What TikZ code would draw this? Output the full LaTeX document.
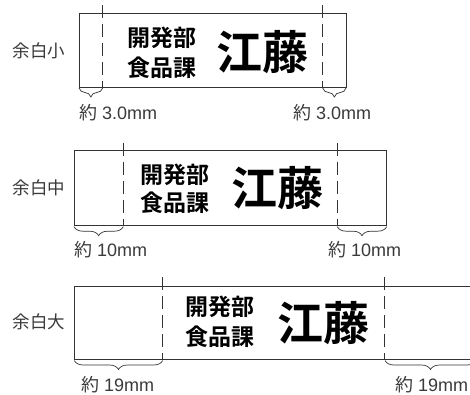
\documentclass[tikz,border=0pt]{standalone}
\usepackage{fontspec}
\setmainfont{Liberation Sans}
\newfontfamily\jp{Noto Sans CJK JP}
\newfontfamily\jpbold{Noto Sans CJK JP Bold}
\usetikzlibrary{decorations.pathreplacing}
\definecolor{linegray}{HTML}{333333}
\definecolor{labelgray}{HTML}{3A3A3A}

\begin{document}
\begin{tikzpicture}[x=1pt, y=-1pt,
    tape/.style={draw=linegray, line width=0.8pt},
    cutline/.style={draw=linegray, line width=0.8pt, dash pattern=on 13pt off 6pt},
    marginbrace/.style={draw=linegray, line width=0.7pt, decorate, decoration={brace, mirror, amplitude=9pt, raise=1pt}},
    rowlabel/.style={text=labelgray, font=\jp\fontsize{17.5}{18}\selectfont, inner sep=0pt},
    sizelabel/.style={text=labelgray, font=\fontsize{18}{20}\selectfont, inner sep=0pt, anchor=west},
    dept/.style={font=\jpbold\fontsize{23}{26}\selectfont, inner sep=0pt},
    bigname/.style={font=\jpbold\fontsize{46}{50}\selectfont, inner sep=0pt}
]
\useasboundingbox (0,0) rectangle (470,395);
\clip (0,0) rectangle (470,395);

% Small margin
\node[rowlabel] (labelA) at (39,51) {余白小};
\draw[tape] (79,13) rectangle (346,87);
\draw[cutline] (102.7,5) -- (102.7,87);
\draw[cutline] (322.7,5) -- (322.7,87);
\node[dept] (deptA) at (161.5,38) {開発部};
\node[dept] (sectA) at (161.5,68) {食品課};
\node[bigname] (nameA) at (262,52) {江藤};
\coordinate (edgeLA) at (79,87);
\coordinate (cutLA) at (102.7,87);
\coordinate (cutRA) at (322.7,87);
\coordinate (edgeRA) at (346,87);
\draw[marginbrace] (edgeLA) -- (cutLA);
\draw[marginbrace] (cutRA) -- (edgeRA);
\node[sizelabel] (sizeLA) at (79,113) {{\jp 約} 3.0mm};
\node[sizelabel] (sizeRA) at (293,113) {{\jp 約} 3.0mm};

% Medium margin
\node[rowlabel] (labelB) at (39,188) {余白中};
\draw[tape] (74,150.7) rectangle (386.7,225.7);
\draw[cutline] (123.3,142.7) -- (123.3,225.7);
\draw[cutline] (337.3,142.7) -- (337.3,225.7);
\node[dept] (deptB) at (175,175) {開発部};
\node[dept] (sectB) at (175,203) {食品課};
\node[bigname] (nameB) at (277,188.5) {江藤};
\coordinate (edgeLB) at (74,225.7);
\coordinate (cutLB) at (123.3,225.7);
\coordinate (cutRB) at (337.3,225.7);
\coordinate (edgeRB) at (386.7,225.7);
\draw[marginbrace] (edgeLB) -- (cutLB);
\draw[marginbrace] (cutRB) -- (edgeRB);
\node[sizelabel] (sizeLB) at (74,250) {{\jp 約} 10mm};
\node[sizelabel] (sizeRB) at (328,250) {{\jp 約} 10mm};

% Large margin
\node[rowlabel] (labelC) at (39,322) {余白大};
\draw[tape] (74.3,286.7) rectangle (476,359.5);
\draw[cutline] (162.7,277) -- (162.7,359.5);
\draw[cutline] (384,277) -- (384,359.5);
\node[dept] (deptC) at (220,307) {開発部};
\node[dept] (sectC) at (220,337) {食品課};
\node[bigname] (nameC) at (323,323.5) {江藤};
\coordinate (edgeLC) at (74.3,359.5);
\coordinate (cutLC) at (162.7,359.5);
\coordinate (cutRC) at (385,359.5);
\coordinate (edgeRC) at (476,359.5);
\draw[marginbrace] (edgeLC) -- (cutLC);
\draw[marginbrace] (cutRC) -- (edgeRC);
\node[sizelabel] (sizeLC) at (81,385) {{\jp 約} 19mm};
\node[sizelabel] (sizeRC) at (395,385) {{\jp 約} 19mm};

\end{tikzpicture}
\end{document}
